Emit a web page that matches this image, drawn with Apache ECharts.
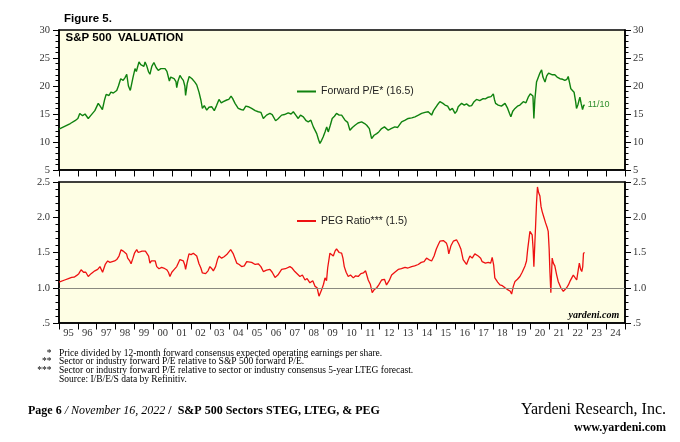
<!DOCTYPE html>
<html>
<head>
<meta charset="utf-8">
<script src="https://cdn.jsdelivr.net/npm/echarts@6/dist/echarts.min.js"></script>
<style>
html,body{margin:0;padding:0;background:#fff;}
#chart{width:680px;height:442px;}
</style>
</head>
<body>
<div id="chart"></div>
<script>
// ---------- DATA ----------
const yearLabels = ['95','96','97','98','99','00','01','02','03','04','05','06','07','08','09','10','11','12','13','14','15','16','17','18','19','20','21','22','23','24'];

const peTickValues = [5, 10, 15, 20, 25, 30];
const pegTickValues = [0.5, 1.0, 1.5, 2.0, 2.5];

const peName = 'Forward P/E* (16.5)';
const pegName = 'PEG Ratio*** (1.5)';
const lastDateLabel = '11/10';
const pegReference = 1.0;

const peDates = [1995.0,1995.3,1995.6,1995.85,1996.0,1996.1,1996.25,1996.38,1996.55,1996.7,1996.9,1997.08,1997.2,1997.3,1997.42,1997.5,1997.65,1997.75,1997.88,1998.06,1998.15,1998.27,1998.4,1998.5,1998.59,1998.68,1998.78,1998.82,1998.92,1999.03,1999.1,1999.24,1999.33,1999.41,1999.5,1999.56,1999.65,1999.75,1999.82,1999.92,2000.03,2000.15,2000.26,2000.4,2000.5,2000.62,2000.72,2000.85,2000.92,2001.0,2001.1,2001.2,2001.24,2001.3,2001.41,2001.5,2001.59,2001.67,2001.71,2001.8,2001.9,2002.05,2002.2,2002.3,2002.42,2002.52,2002.6,2002.7,2002.83,2002.95,2003.09,2003.23,2003.35,2003.48,2003.6,2003.71,2003.89,2004.0,2004.12,2004.2,2004.33,2004.5,2004.65,2004.77,2004.9,2005.03,2005.21,2005.4,2005.56,2005.7,2005.83,2006.0,2006.18,2006.3,2006.48,2006.6,2006.8,2006.95,2007.15,2007.3,2007.42,2007.55,2007.68,2007.8,2007.95,2008.1,2008.21,2008.35,2008.48,2008.58,2008.66,2008.75,2008.83,2008.92,2009.0,2009.1,2009.19,2009.27,2009.38,2009.48,2009.6,2009.71,2009.85,2009.98,2010.16,2010.3,2010.42,2010.55,2010.69,2010.85,2011.04,2011.2,2011.31,2011.45,2011.57,2011.7,2011.84,2011.95,2012.1,2012.25,2012.45,2012.6,2012.8,2012.95,2013.16,2013.35,2013.51,2013.7,2013.87,2014.05,2014.22,2014.4,2014.57,2014.75,2014.85,2014.93,2015.05,2015.19,2015.35,2015.46,2015.6,2015.72,2015.85,2015.99,2016.08,2016.16,2016.34,2016.48,2016.6,2016.75,2016.87,2017.0,2017.13,2017.3,2017.48,2017.6,2017.75,2017.9,2018.02,2018.08,2018.14,2018.28,2018.45,2018.64,2018.72,2018.78,2018.88,2018.95,2019.05,2019.17,2019.3,2019.43,2019.52,2019.61,2019.75,2019.87,2019.98,2020.08,2020.12,2020.17,2020.22,2020.31,2020.4,2020.49,2020.58,2020.65,2020.72,2020.76,2020.85,2020.95,2021.02,2021.15,2021.28,2021.4,2021.55,2021.7,2021.81,2021.92,2021.99,2022.06,2022.13,2022.22,2022.3,2022.38,2022.43,2022.5,2022.56,2022.61,2022.68,2022.75,2022.78,2022.82,2022.86];
const peValues = [12.3,12.8,13.3,13.8,14.2,15.1,14.7,15.0,14.2,14.8,15.6,16.9,16.3,15.8,17.6,18.5,18.3,18.9,18.75,19.2,20.0,21.3,21.0,21.5,22.1,20.0,19.2,18.9,21.5,23.1,22.6,24.3,23.8,24.0,23.5,24.3,23.6,22.5,22.1,23.5,24.2,23.3,22.8,23.1,23.2,23.1,22.6,20.9,21.6,21.9,21.3,20.8,19.7,20.8,21.9,21.4,21.0,20.0,18.3,20.5,21.7,21.3,20.7,20.2,18.9,17.5,16.0,16.5,15.7,16.2,16.3,15.6,16.5,17.6,17.0,17.2,17.5,17.6,18.2,17.8,16.9,16.0,15.8,15.7,16.4,16.3,16.0,15.6,15.4,15.3,14.2,14.8,15.1,14.9,13.8,14.1,14.8,14.9,15.2,15.0,15.4,14.8,14.2,14.8,14.5,13.8,13.6,13.9,12.7,12.5,11.5,10.5,9.75,10.3,10.9,11.8,12.7,11.8,13.0,14.2,14.6,15.1,14.8,14.8,13.9,13.5,12.1,12.6,13.0,13.4,13.6,13.3,13.0,12.4,10.6,11.2,11.5,11.8,12.4,12.7,12.1,12.4,12.7,12.6,13.6,13.9,14.2,14.3,14.5,14.8,15.1,15.3,15.4,14.8,15.6,16.0,16.6,17.2,16.9,16.6,16.4,15.7,16.0,15.1,15.5,16.3,16.9,16.6,16.8,16.4,16.5,17.2,17.6,17.4,17.75,17.7,18.0,18.1,18.6,17.6,16.9,16.6,16.4,16.9,16.8,16.0,15.1,14.5,15.5,16.0,16.4,16.6,16.3,17.2,17.0,18.0,18.6,18.9,18.2,14.2,17.5,20.7,21.5,22.3,22.9,21.6,21.5,20.7,21.8,22.3,22.5,22.0,22.0,21.6,21.3,21.2,21.0,21.2,21.7,20.6,19.5,19.4,18.9,17.3,16.0,16.6,17.4,18.0,16.8,15.8,15.5,16.6,16.5];

const pegDates = [1995.0,1995.3,1995.5,1995.67,1995.8,1995.94,1996.05,1996.17,1996.3,1996.42,1996.55,1996.7,1996.9,1997.05,1997.17,1997.31,1997.45,1997.58,1997.7,1997.79,1997.95,1998.06,1998.18,1998.29,1998.4,1998.5,1998.58,1998.64,1998.75,1998.82,1998.92,1999.0,1999.12,1999.2,1999.3,1999.4,1999.47,1999.58,1999.65,1999.75,1999.82,1999.9,2000.0,2000.1,2000.18,2000.3,2000.44,2000.55,2000.71,2000.8,2000.88,2000.98,2001.11,2001.24,2001.32,2001.41,2001.5,2001.59,2001.66,2001.71,2001.8,2001.89,2002.0,2002.12,2002.3,2002.42,2002.52,2002.6,2002.77,2002.9,2003.0,2003.1,2003.18,2003.3,2003.4,2003.48,2003.62,2003.75,2003.89,2004.1,2004.24,2004.35,2004.42,2004.55,2004.68,2004.82,2004.95,2005.21,2005.4,2005.56,2005.7,2005.83,2006.0,2006.18,2006.3,2006.45,2006.6,2006.8,2007.0,2007.24,2007.35,2007.5,2007.6,2007.77,2007.9,2008.04,2008.15,2008.3,2008.45,2008.57,2008.68,2008.78,2008.85,2008.92,2009.02,2009.1,2009.18,2009.24,2009.36,2009.45,2009.54,2009.63,2009.71,2009.85,2009.98,2010.05,2010.12,2010.22,2010.33,2010.45,2010.6,2010.72,2010.86,2011.0,2011.13,2011.25,2011.39,2011.5,2011.6,2011.7,2011.84,2011.95,2012.1,2012.25,2012.36,2012.5,2012.63,2012.8,2012.98,2013.15,2013.34,2013.5,2013.69,2013.85,2014.04,2014.2,2014.35,2014.48,2014.6,2014.75,2014.88,2015.0,2015.1,2015.19,2015.37,2015.54,2015.6,2015.66,2015.78,2015.9,2016.07,2016.19,2016.3,2016.42,2016.6,2016.7,2016.78,2016.9,2017.04,2017.22,2017.35,2017.43,2017.6,2017.75,2017.88,2017.96,2018.04,2018.1,2018.25,2018.37,2018.5,2018.64,2018.8,2018.92,2018.99,2019.08,2019.17,2019.3,2019.43,2019.55,2019.7,2019.78,2019.84,2019.96,2020.08,2020.13,2020.17,2020.22,2020.26,2020.31,2020.36,2020.42,2020.49,2020.55,2020.61,2020.7,2020.79,2020.88,2020.93,2020.98,2021.02,2021.07,2021.1,2021.14,2021.2,2021.28,2021.38,2021.46,2021.6,2021.73,2021.82,2021.91,2022.0,2022.08,2022.18,2022.26,2022.35,2022.44,2022.52,2022.58,2022.65,2022.71,2022.76,2022.8,2022.86];
const pegValues = [1.08,1.11,1.13,1.147,1.15,1.175,1.2,1.256,1.22,1.22,1.16,1.2,1.24,1.26,1.30,1.22,1.33,1.38,1.36,1.36,1.38,1.40,1.45,1.54,1.52,1.53,1.48,1.42,1.38,1.34,1.42,1.49,1.54,1.50,1.48,1.52,1.54,1.52,1.53,1.45,1.35,1.38,1.40,1.38,1.30,1.27,1.29,1.28,1.256,1.22,1.16,1.22,1.26,1.30,1.28,1.40,1.39,1.38,1.33,1.26,1.38,1.48,1.47,1.49,1.45,1.34,1.28,1.21,1.20,1.24,1.30,1.27,1.24,1.30,1.40,1.45,1.42,1.44,1.47,1.54,1.48,1.40,1.35,1.33,1.30,1.31,1.37,1.36,1.33,1.34,1.30,1.23,1.25,1.26,1.22,1.147,1.18,1.26,1.27,1.30,1.28,1.23,1.25,1.16,1.18,1.11,1.13,1.07,1.10,1.02,1.00,0.88,0.90,0.97,1.05,1.14,1.10,1.28,1.49,1.50,1.45,1.52,1.55,1.50,1.49,1.42,1.30,1.22,1.16,1.18,1.14,1.17,1.16,1.20,1.21,1.24,1.11,1.05,0.93,0.97,1.00,1.04,1.11,1.12,1.04,1.10,1.18,1.22,1.26,1.27,1.29,1.28,1.30,1.31,1.33,1.36,1.37,1.42,1.40,1.38,1.45,1.55,1.61,1.66,1.67,1.63,1.58,1.48,1.60,1.66,1.68,1.62,1.55,1.40,1.33,1.40,1.45,1.42,1.48,1.45,1.42,1.37,1.35,1.36,1.35,1.43,1.32,1.14,1.08,1.04,1.03,1.00,0.97,0.95,0.91,1.02,1.09,1.12,1.16,1.22,1.31,1.38,1.54,1.80,1.75,1.55,1.30,1.62,1.87,2.2,2.43,2.35,2.30,2.15,2.08,2.0,1.92,1.85,1.80,1.55,1.23,0.93,1.15,1.42,1.35,1.31,1.18,1.09,1.00,0.95,0.97,1.00,1.04,1.09,1.14,1.18,1.20,1.11,1.25,1.35,1.26,1.23,1.30,1.49,1.50];

const footnoteMarks = ['*', '**', '***', ''];
const footnoteTexts = [
  'Price divided by 12-month forward consensus expected operating earnings per share.',
  'Sector or industry forward P/E relative to S&P 500 forward P/E.',
  'Sector or industry forward P/E relative to sector or industry consensus 5-year LTEG forecast.',
  'Source: I/B/E/S data by Refinitiv.'
];

// ---------- CHART ----------
const SERIF = '"Liberation Serif", "Times New Roman", serif';
const SANS = '"Liberation Sans", Arial, sans-serif';
const GREEN = '#0f820f';
const RED = '#ee1111';
const BG = '#FEFEE4';

const peData = peDates.map((d, i) => [d, peValues[i]]);
const pegData = pegDates.map((d, i) => [d, pegValues[i]]);

function yAxisCfg(grid, pos, min, max, interval, fmt) {
  return {
    type: 'value', gridIndex: grid, position: pos, min: min, max: max, interval: interval,
    axisLine: { show: true, lineStyle: { color: '#000', width: 1.5 } },
    axisTick: { show: true, inside: false, length: 6, lineStyle: { color: '#000', width: 1 } },
    minorTick: { show: true, splitNumber: 5, length: 3.5, lineStyle: { color: '#000', width: 1 } },
    splitLine: { show: false },
    axisLabel: { show: true, margin: pos === 'left' ? 9 : 8, fontFamily: SERIF, fontSize: 10.5, color: '#333', formatter: fmt }
  };
}
function xValAxis(grid) {
  return { type: 'value', gridIndex: grid, min: 1995, max: 2025, show: false };
}
function xCatAxis(grid, showLabels) {
  return {
    type: 'category', gridIndex: grid, data: yearLabels, boundaryGap: true, position: 'bottom',
    axisLine: { show: true, lineStyle: { color: '#000', width: 1.5 } },
    axisTick: { show: true, inside: false, length: 6.5, alignWithLabel: false, interval: 0, lineStyle: { color: '#000', width: 1 } },
    axisLabel: { show: showLabels, interval: 0, margin: 4.5, fontFamily: SERIF, fontSize: 10.5, color: '#333' },
    splitLine: { show: false }
  };
}
const pegFmt = v => (Math.abs(v - 0.5) < 1e-9 ? '.5' : v.toFixed(1));

const chart = echarts.init(document.getElementById('chart'), null, { renderer: 'canvas' });

const graphics = [
  { type: 'text', left: 64, top: 13, style: { text: 'Figure 5.', font: 'bold 11.5px ' + SANS, fill: '#000' } },
  { type: 'text', left: 65.5, top: 32, style: { text: 'S&P 500  VALUATION', font: 'bold 11.5px ' + SANS, fill: '#000' } },
  { type: 'text', left: 568.5, top: 310.5, style: { text: 'yardeni.com', font: 'italic bold 10px ' + SERIF, fill: '#000' } },
  { type: 'text', left: 28, top: 405, style: {
      text: '{b|Page 6 }{i|/ November 16, 2022 }{b|/  S&P 500 Sectors STEG, LTEG, & PEG}',
      rich: {
        b: { font: 'bold 12px ' + SERIF, fill: '#000' },
        i: { font: 'italic 12px ' + SERIF, fill: '#000' }
      } } },
  { type: 'text', right: 14, top: 402, style: { text: 'Yardeni Research, Inc.', font: '16px ' + SERIF, fill: '#000' } },
  { type: 'text', right: 14, top: 422, style: { text: 'www.yardeni.com', font: 'bold 12px ' + SERIF, fill: '#000' } }
];
const fnY = [353, 361.5, 370, 379.5];
footnoteTexts.forEach((t, i) => {
  if (footnoteMarks[i]) {
    graphics.push({ type: 'text', x: 51.5, y: fnY[i], style: { text: footnoteMarks[i], font: '9.5px ' + SERIF, fill: '#000', align: 'right', verticalAlign: 'middle' } });
  }
  graphics.push({ type: 'text', x: 59, y: fnY[i], style: { text: t, font: '9.5px ' + SERIF, fill: '#000', align: 'left', verticalAlign: 'middle' } });
});

chart.setOption({
  animation: false,
  backgroundColor: '#fff',
  grid: [
    { left: 59, right: 55, top: 30, height: 140, show: true, backgroundColor: BG, borderColor: '#000', borderWidth: 1.5, containLabel: false },
    { left: 59, right: 55, top: 182, height: 141, show: true, backgroundColor: BG, borderColor: '#000', borderWidth: 1.5, containLabel: false }
  ],
  xAxis: [ xValAxis(0), xCatAxis(0, false), xValAxis(1), xCatAxis(1, true) ],
  yAxis: [
    yAxisCfg(0, 'left', peTickValues[0], peTickValues[peTickValues.length - 1], 5, v => String(v)),
    yAxisCfg(0, 'right', peTickValues[0], peTickValues[peTickValues.length - 1], 5, v => String(v)),
    yAxisCfg(1, 'left', pegTickValues[0], pegTickValues[pegTickValues.length - 1], 0.5, pegFmt),
    yAxisCfg(1, 'right', pegTickValues[0], pegTickValues[pegTickValues.length - 1], 0.5, pegFmt)
  ],
  legend: [
    { data: [peName], left: 297, top: 86, padding: 0, icon: 'rect', itemWidth: 19, itemHeight: 2, itemGap: 5,
      textStyle: { fontFamily: SANS, fontSize: 10.5, color: '#222' }, selectedMode: false },
    { data: [pegName], left: 297, top: 215.5, padding: 0, icon: 'rect', itemWidth: 19, itemHeight: 2, itemGap: 5,
      textStyle: { fontFamily: SANS, fontSize: 10.5, color: '#222' }, selectedMode: false }
  ],
  series: [
    { name: peName, type: 'line', xAxisIndex: 0, yAxisIndex: 0, data: peData, showSymbol: false, symbol: 'none',
      lineStyle: { color: GREEN, width: 1.4 }, itemStyle: { color: GREEN },
      endLabel: { show: true, formatter: lastDateLabel, color: '#2f8f2f', fontFamily: SANS, fontSize: 9, distance: 3, offset: [0, -1] } },
    { name: pegName, type: 'line', xAxisIndex: 2, yAxisIndex: 2, data: pegData, showSymbol: false, symbol: 'none',
      lineStyle: { color: RED, width: 1.3 }, itemStyle: { color: RED }, z: 3,
      markLine: { silent: true, symbol: 'none', label: { show: false },
        lineStyle: { color: '#8a8a80', type: 'solid', width: 1.2 }, data: [{ yAxis: pegReference }] } }
  ],
  graphic: graphics
});
</script>
</body>
</html>
